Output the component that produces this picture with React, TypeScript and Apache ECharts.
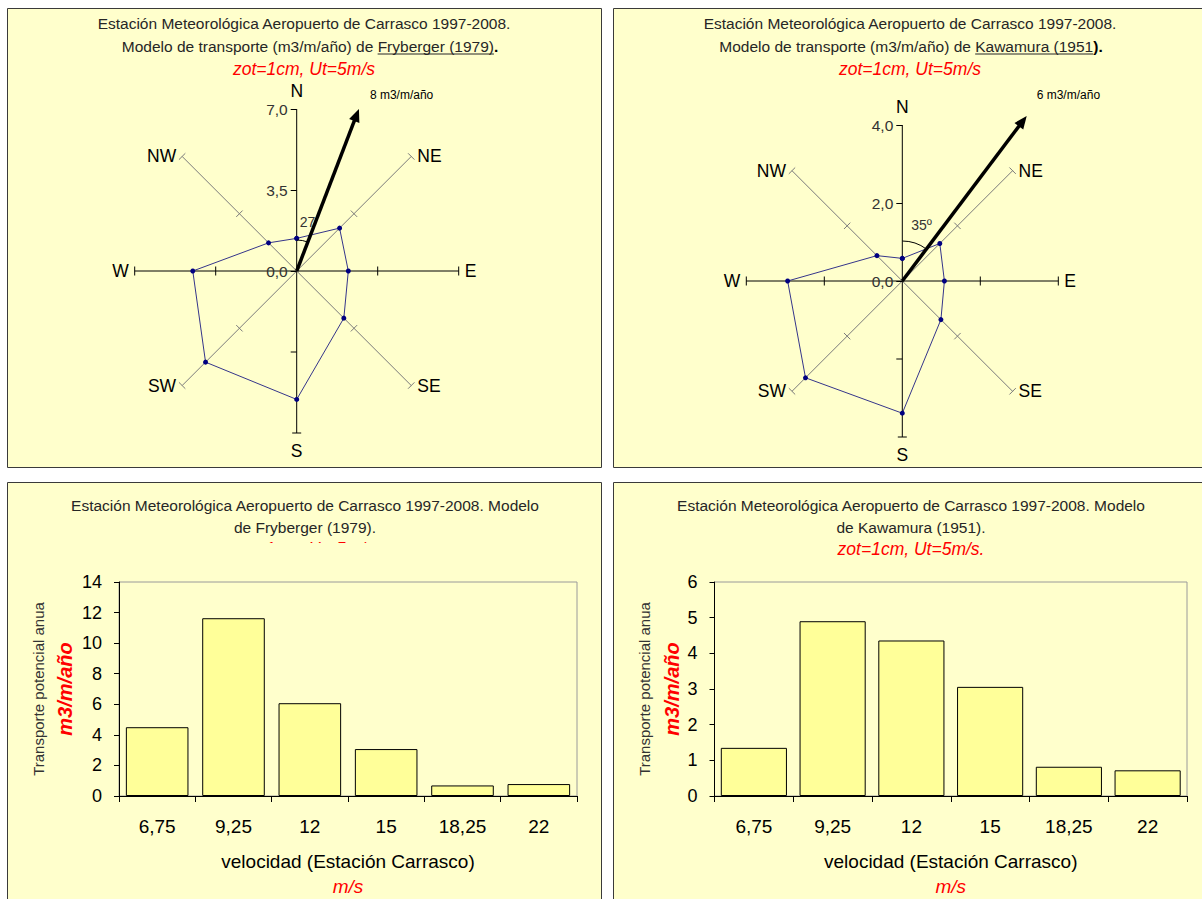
import React, { useEffect, useRef } from 'react';
import * as echarts from 'echarts';

const FONT = '"Liberation Sans", Arial, Helvetica, sans-serif';

// ---- Data ----
const DIRS = ['N', 'NE', 'E', 'SE', 'S', 'SW', 'W', 'NW'];
const DIR_ANGLES = [0, 45, 90, 135, 180, 225, 270, 315];

// Wind rose of annual potential transport (m3/m/año) per direction
const FRY_ROSE = [1.41, 2.62, 2.23, 2.88, 5.55, 5.57, 4.49, 1.72];
const KAW_ROSE = [0.58, 1.36, 1.08, 1.40, 3.39, 3.51, 2.94, 0.92];
const FRY_ROSE_MAX = 7;
const KAW_ROSE_MAX = 4;
// resultant arrow: [length on the rose scale, angle clockwise from N]
const FRY_ARROW = [7.5, 21];
const KAW_ARROW = [5.3, 37];
const FRY_ARROW_TEXT = '8 m3/m/año';
const KAW_ARROW_TEXT = '6 m3/m/año';
const FRY_ANGLE_TEXT = '27';
const KAW_ANGLE_TEXT = '35º';

// Histograms
const SPEED_LABELS = ['6,75', '9,25', '12', '15', '18,25', '22'];
const FRY_BARS = [4.5, 11.63, 6.07, 3.07, 0.69, 0.78];
const KAW_BARS = [1.35, 4.9, 4.36, 3.06, 0.82, 0.72];

const TITLE1 = 'Estación Meteorológica Aeropuerto de Carrasco 1997-2008.';
const TITLE_PREFIX = 'Modelo de transporte (m3/m/año) de ';
const RED_TEXT = 'zot=1cm, Ut=5m/s';

const PANEL_FILL = '#FFFFCC';
const PANEL_STROKE = '#3a3a3a';
const TITLE_COLOR = '#262626';

function measure(text: string, font: string): number {
  const c = document.createElement('canvas').getContext('2d');
  if (!c) return text.length * 7;
  c.font = font;
  return c.measureText(text).width;
}

const fmtComma = (v: number) => v.toFixed(1).replace('.', ',');

function roseTitle(cx: number, cx2: number, underlined: string, tail: string): any[] {
  const f = `15.5px ${FONT}`;
  const fb = `bold 15.5px ${FONT}`;
  const w1 = measure(TITLE_PREFIX, f);
  const w2 = measure(underlined, f);
  const w3 = measure(tail, fb);
  const x0 = cx2 - (w1 + w2 + w3) / 2;
  const y2 = 46.5;
  return [
    { type: 'text', x: cx, y: 23, z: 5, style: { text: TITLE1, font: f, fill: TITLE_COLOR, align: 'center', verticalAlign: 'middle' } },
    { type: 'text', x: x0, y: y2, z: 5, style: { text: TITLE_PREFIX, font: f, fill: TITLE_COLOR, align: 'left', verticalAlign: 'middle' } },
    { type: 'text', x: x0 + w1, y: y2, z: 5, style: { text: underlined, font: f, fill: TITLE_COLOR, align: 'left', verticalAlign: 'middle' } },
    { type: 'text', x: x0 + w1 + w2, y: y2, z: 5, style: { text: tail, font: fb, fill: '#000', align: 'left', verticalAlign: 'middle' } },
    { type: 'line', z: 5, shape: { x1: x0 + w1, y1: y2 + 7.5, x2: x0 + w1 + w2, y2: y2 + 7.5 }, style: { stroke: TITLE_COLOR, lineWidth: 1 } },
    { type: 'text', x: cx, y: 69, z: 5, style: { text: RED_TEXT, font: `italic 17.5px ${FONT}`, fill: '#FF0000', align: 'center', verticalAlign: 'middle' } },
  ];
}

function barTitle(cx: number, line2: string, covered: boolean): any[] {
  const f = `15.5px ${FONT}`;
  const els: any[] = [
    { type: 'text', x: cx, y: 505, z: 5, style: { text: TITLE1 + ' Modelo', font: f, fill: TITLE_COLOR, align: 'center', verticalAlign: 'middle' } },
    { type: 'text', x: cx, y: 527, z: 5, style: { text: line2, font: f, fill: TITLE_COLOR, align: 'center', verticalAlign: 'middle' } },
    { type: 'text', x: cx, y: 549, z: 5, style: { text: RED_TEXT + '.', font: `italic 17.5px ${FONT}`, fill: '#FF0000', align: 'center', verticalAlign: 'middle' } },
  ];
  if (covered) {
    els.push({ type: 'rect', z: 6, shape: { x: cx - 120, y: 543, width: 240, height: 30 }, style: { fill: PANEL_FILL } });
  }
  return els;
}

function compassRender(params: any, api: any) {
  const i = params.dataIndex;
  const r = api.value(0);
  const a = api.value(1);
  const c = api.coord([0, a]);
  const p = api.coord([r, a]);
  const m = api.coord([r / 2, a]);
  const dx = p[0] - c[0];
  const dy = p[1] - c[1];
  const L = Math.hypot(dx, dy) || 1;
  const ux = dx / L;
  const uy = dy / L;
  const px = -uy;
  const py = ux;
  const color = i % 2 === 0 ? '#000000' : '#7a7a7a';
  const children: any[] = [
    { type: 'line', shape: { x1: c[0], y1: c[1], x2: p[0], y2: p[1] }, style: { stroke: color, lineWidth: 1 } },
  ];
  const cross = (q: number[]) =>
    children.push({ type: 'line', shape: { x1: q[0] - px * 4.5, y1: q[1] - py * 4.5, x2: q[0] + px * 4.5, y2: q[1] + py * 4.5 }, style: { stroke: color, lineWidth: 1 } });
  const side = (q: number[]) =>
    children.push({ type: 'line', shape: { x1: q[0], y1: q[1], x2: q[0] + px * 6, y2: q[1] + py * 6 }, style: { stroke: color, lineWidth: 1 } });
  if (i !== 0) {
    if (i === 4) side(m); else cross(m);
    cross(p);
  }
  let tx: number, ty: number, align: string;
  if (Math.abs(ux) < 0.1) {
    tx = p[0];
    ty = p[1] + uy * 18;
    align = 'center';
  } else {
    tx = p[0] + Math.sign(ux) * 6;
    ty = p[1];
    align = ux > 0 ? 'left' : 'right';
  }
  children.push({ type: 'text', x: tx, y: ty, style: { text: DIRS[i], font: `17.5px ${FONT}`, fill: '#000', align, verticalAlign: 'middle' } });
  return { type: 'group', children };
}

function arrowRender(arcR: number, angleTextOffset: number[], magOffset: number[], angleText: string, magText: string) {
  return (params: any, api: any) => {
    const len = api.value(0);
    const ang = api.value(1);
    const c = api.coord([0, ang]);
    const t = api.coord([len, ang]);
    const dx = t[0] - c[0];
    const dy = t[1] - c[1];
    const L = Math.hypot(dx, dy) || 1;
    const ux = dx / L;
    const uy = dy / L;
    const px = -uy;
    const py = ux;
    const hl = 13;
    const hw = 5.5;
    const bx = t[0] - ux * hl;
    const by = t[1] - uy * hl;
    const rad = (ang * Math.PI) / 180;
    return {
      type: 'group',
      children: [
        { type: 'arc', shape: { cx: c[0], cy: c[1], r: arcR, startAngle: -Math.PI / 2, endAngle: -Math.PI / 2 + rad, clockwise: true }, style: { stroke: '#000', fill: 'none', lineWidth: 1 } },
        { type: 'text', x: c[0] + angleTextOffset[0], y: c[1] + angleTextOffset[1], style: { text: angleText, font: `14px ${FONT}`, fill: '#333', align: 'left', verticalAlign: 'middle' } },
        { type: 'line', shape: { x1: c[0], y1: c[1], x2: bx + ux * 2, y2: by + uy * 2 }, style: { stroke: '#000', lineWidth: 3.5 } },
        { type: 'polygon', shape: { points: [[t[0], t[1]], [bx + px * hw, by + py * hw], [bx - px * hw, by - py * hw]] }, style: { fill: '#000' } },
        { type: 'text', x: t[0] + magOffset[0], y: t[1] + magOffset[1], style: { text: magText, font: `12px ${FONT}`, fill: '#000', align: 'left', verticalAlign: 'middle' } },
      ],
    };
  };
}

function roseSeries(polarIndex: number, rose: number[], max: number, arrow: number[], arrowFn: any): any[] {
  const poly = rose.map((r, i) => [r, DIR_ANGLES[i]]);
  poly.push([rose[0], 360]);
  return [
    {
      type: 'custom',
      coordinateSystem: 'polar',
      polarIndex,
      z: 1,
      silent: true,
      data: DIR_ANGLES.map((a) => [max, a]),
      renderItem: compassRender,
    },
    {
      type: 'line',
      coordinateSystem: 'polar',
      polarIndex,
      z: 3,
      clip: false,
      data: poly,
      symbol: 'circle',
      symbolSize: 5,
      itemStyle: { color: '#000080' },
      lineStyle: { color: '#35358a', width: 1 },
    },
    {
      type: 'custom',
      coordinateSystem: 'polar',
      polarIndex,
      z: 4,
      silent: true,
      clip: false,
      data: [arrow],
      renderItem: arrowFn,
    },
  ];
}

function radiusAxis(polarIndex: number, max: number): any {
  return {
    polarIndex,
    type: 'value',
    min: 0,
    max,
    interval: max / 2,
    axisLine: { show: false },
    axisTick: { show: true, length: 6, lineStyle: { color: '#000' } },
    splitLine: { show: false },
    axisLabel: { show: true, margin: 9, fontSize: 15.5, color: '#333', fontFamily: FONT, formatter: fmtComma },
    z: 5,
  };
}

function angleAxis(polarIndex: number): any {
  return { polarIndex, type: 'value', min: 0, max: 360, startAngle: 90, clockwise: true, show: false };
}

function barAxes(gridIndex: number, max: number, interval: number, yNameGap: number): { x: any; y: any } {
  return {
    x: {
      gridIndex,
      type: 'category',
      data: SPEED_LABELS,
      axisLine: { lineStyle: { color: '#000', width: 1 } },
      axisTick: { show: true, length: 6, lineStyle: { color: '#000' } },
      axisLabel: { fontSize: 19, color: '#000', margin: 21, fontFamily: FONT },
      name: '{a|velocidad (Estación Carrasco)}\n{b|m/s}',
      nameLocation: 'middle',
      nameGap: 53,
      nameTextStyle: {
        rich: {
          a: { fontSize: 19, color: '#000', fontFamily: FONT, lineHeight: 25 },
          b: { fontSize: 19, color: '#FF0000', fontStyle: 'italic', fontFamily: FONT, lineHeight: 25 },
        },
      },
    },
    y: {
      gridIndex,
      type: 'value',
      min: 0,
      max,
      interval,
      axisLine: { show: true, lineStyle: { color: '#000', width: 1 } },
      axisTick: { show: true, length: 5, lineStyle: { color: '#000' } },
      axisLabel: { fontSize: 18, color: '#000', margin: 17, fontFamily: FONT },
      splitLine: { show: false },
      name: '{a|Transporte potencial anua}\n{b|m3/m/año}',
      nameLocation: 'middle',
      nameRotate: 90,
      nameGap: yNameGap,
      nameTextStyle: {
        rich: {
          a: { fontSize: 15, color: '#333', fontFamily: FONT, lineHeight: 30 },
          b: { fontSize: 20, color: '#FF0000', fontStyle: 'italic', fontWeight: 'bold', fontFamily: FONT, lineHeight: 24 },
        },
      },
    },
  };
}

function buildOption(): any {
  const bl = barAxes(0, 14, 2, 42);
  const br = barAxes(1, 6, 1, 31);
  const panels = [
    { x: 7.5, y: 8.5, w: 594, h: 459 },
    { x: 613.5, y: 8.5, w: 620, h: 459 },
    { x: 7.5, y: 482.5, w: 594, h: 440 },
    { x: 613.5, y: 482.5, w: 620, h: 440 },
  ].map((p) => ({
    type: 'rect',
    z: -100,
    shape: { x: p.x, y: p.y, width: p.w, height: p.h },
    style: { fill: PANEL_FILL, stroke: PANEL_STROKE, lineWidth: 1 },
  }));

  return {
    animation: false,
    backgroundColor: '#ffffff',
    textStyle: { fontFamily: FONT },
    graphic: {
      elements: [
        ...panels,
        ...roseTitle(304, 310, 'Fryberger (1979)', '.'),
        ...roseTitle(910, 911, 'Kawamura (1951', ').'),
        ...barTitle(305, 'de Fryberger (1979).', true),
        ...barTitle(911, 'de Kawamura (1951).', false),
      ],
    },
    polar: [
      { center: [296.7, 271], radius: 162 },
      { center: [902.3, 281], radius: 156 },
    ],
    angleAxis: [angleAxis(0), angleAxis(1)],
    radiusAxis: [radiusAxis(0, FRY_ROSE_MAX), radiusAxis(1, KAW_ROSE_MAX)],
    grid: [
      { left: 119, top: 582, width: 458, height: 214, show: true, backgroundColor: PANEL_FILL, borderColor: '#9a9a9a', borderWidth: 1 },
      { left: 714.5, top: 582, width: 472.5, height: 214, show: true, backgroundColor: PANEL_FILL, borderColor: '#9a9a9a', borderWidth: 1 },
    ],
    xAxis: [bl.x, br.x],
    yAxis: [bl.y, br.y],
    series: [
      ...roseSeries(0, FRY_ROSE, FRY_ROSE_MAX, FRY_ARROW, arrowRender(31, [3, -49], [11, -14], FRY_ANGLE_TEXT, FRY_ARROW_TEXT)),
      ...roseSeries(1, KAW_ROSE, KAW_ROSE_MAX, KAW_ARROW, arrowRender(40, [9, -56], [10, -21], KAW_ANGLE_TEXT, KAW_ARROW_TEXT)),
      {
        type: 'bar',
        xAxisIndex: 0,
        yAxisIndex: 0,
        data: FRY_BARS,
        barCategoryGap: '18%',
        itemStyle: { color: '#FFFF99', borderColor: '#000', borderWidth: 1 },
      },
      {
        type: 'bar',
        xAxisIndex: 1,
        yAxisIndex: 1,
        data: KAW_BARS,
        barCategoryGap: '16%',
        itemStyle: { color: '#FFFF99', borderColor: '#000', borderWidth: 1 },
      },
    ],
  };
}

export default function App() {
  const ref = useRef<HTMLDivElement>(null);
  useEffect(() => {
    if (!ref.current) return;
    const chart = echarts.init(ref.current, null, { renderer: 'svg' });
    chart.setOption(buildOption());
    return () => {
      chart.dispose();
    };
  }, []);
  return (
    <div
      ref={ref}
      style={{ position: 'absolute', left: 0, top: 0, width: 1202, height: 899, background: '#ffffff' }}
    />
  );
}
